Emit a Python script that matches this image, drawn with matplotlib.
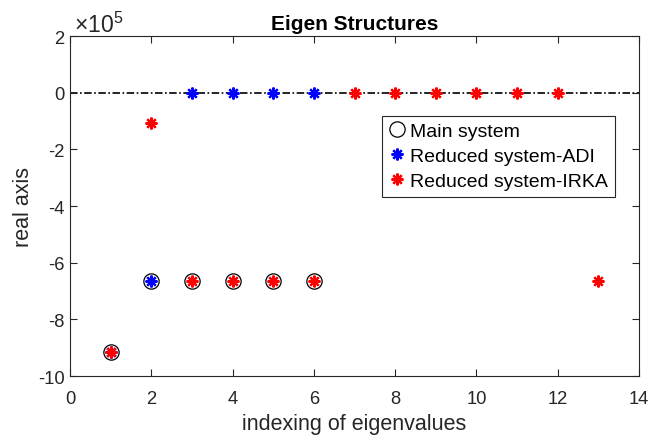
import numpy as np
import matplotlib
matplotlib.use('Agg')
import matplotlib.pyplot as plt
from matplotlib.ticker import FuncFormatter

plt.rcParams['font.family'] = ['Liberation Sans', 'DejaVu Sans']
plt.rcParams['mathtext.fontset'] = 'custom'
plt.rcParams['mathtext.rm'] = 'Liberation Sans'
plt.rcParams['axes.unicode_minus'] = False

# eigenvalue real parts, by index
main_idx = [1, 2, 3, 4, 5, 6]
main_eig = [-9.17e5, -6.65e5, -6.65e5, -6.65e5, -6.65e5, -6.65e5]

adi_idx = [1, 2, 3, 4, 5, 6]
adi_eig = [-9.17e5, -6.65e5, 0.0, 0.0, 0.0, 0.0]

irka_idx = [1, 2, 3, 4, 5, 6, 7, 8, 9, 10, 11, 12, 13]
irka_eig = [-9.17e5, -1.07e5, -6.65e5, -6.65e5, -6.65e5, -6.65e5,
            0.0, 0.0, 0.0, 0.0, 0.0, 0.0, -6.65e5]

zero_level = 0.0
y_scale = 1e5

axc = '#262626'
star = (8, 2, 0)

fig = plt.figure(figsize=(6.62, 4.39), dpi=100)
ax = fig.add_axes([0.1057, 0.1412, 0.8596, 0.7745])

ax.axhline(zero_level, color='k', ls=(0, (4.5, 1.5, 1, 1.5)), lw=1.2, zorder=1)
ax.plot(main_idx, main_eig, ls='none', marker='o', ms=11, mfc='none',
        mec='k', mew=0.9, label='Main system')
ax.plot(adi_idx, adi_eig, ls='none', marker=star, ms=8.5, mec='b', mew=1.6,
        label='Reduced system-ADI')
ax.plot(irka_idx, irka_eig, ls='none', marker=star, ms=8.5, mec='r', mew=1.6,
        label='Reduced system-IRKA')

ax.set_xlim(0, 14)
ax.set_ylim(-10e5, 2e5)
ax.set_xticks(np.arange(0, 15, 2))
ax.set_yticks(np.arange(-10e5, 2.1e5, 2e5))
ax.yaxis.set_major_formatter(FuncFormatter(lambda v, p: '%g' % round(v / y_scale, 6)))
ax.text(0.007, 1.012, r'$\times10^{5}$', transform=ax.transAxes, fontsize=16.5,
        color=axc, ha='left', va='baseline')

ax.tick_params(direction='in', top=True, right=True, length=5, width=0.8,
               colors=axc, labelsize=13.2, labelcolor=axc)
ax.tick_params(axis='x', pad=10)
ax.tick_params(axis='y', pad=4)
for s in ax.spines.values():
    s.set_color(axc)
    s.set_linewidth(0.8)

ax.set_title('Eigen Structures', fontsize=15, fontweight='bold', pad=5)
ax.set_xlabel('indexing of eigenvalues', fontsize=15.5, color=axc)
ax.set_ylabel('real axis', fontsize=15.5, color=axc)
ax.xaxis.set_label_coords(0.5, -0.108)
ax.yaxis.set_label_coords(-0.063, 0.5)

leg = ax.legend(loc='upper left', bbox_to_anchor=(0.548, 0.766), fontsize=14,
                fancybox=False, framealpha=1, edgecolor=axc,
                borderpad=0.35, labelspacing=0.38, handlelength=0.9,
                handletextpad=0.2, borderaxespad=0)
leg.get_frame().set_linewidth(0.8)

fig.savefig('out.png', dpi=100)
